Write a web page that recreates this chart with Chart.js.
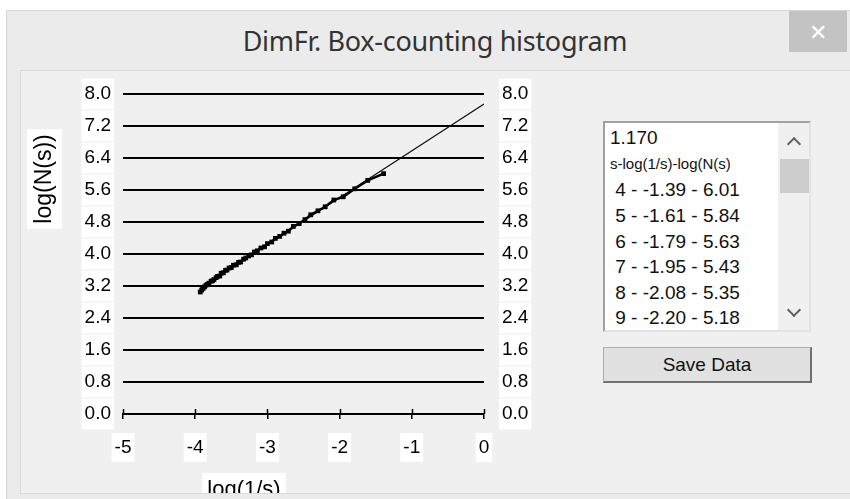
<!DOCTYPE html>
<html>
<head>
<meta charset="utf-8">
<script src="https://cdn.jsdelivr.net/npm/chart.js@4.4.1/dist/chart.umd.min.js"></script>
<style>
  html, body { margin:0; padding:0; background:#fff; width:850px; height:499px; overflow:hidden; }
  #win { position:absolute; left:6px; top:10px; width:860px; height:500px; background:#ebebeb; border:1px solid #d6d6d6; }
  #title { position:absolute; left:0; top:11px; width:870px; text-align:center; font:27px "Noto Sans","Open Sans",sans-serif; color:#333; line-height:60px; letter-spacing:-0.3px; }
  #close { position:absolute; left:789px; top:11px; width:58px; height:41px; background:#c3c3c3; color:#fff; font:22px "Open Sans",sans-serif; text-align:center; line-height:40px; }
  #panel { position:absolute; left:20px; top:70px; width:850px; height:422px; background:#f0f0f0; border:1px solid #dadada; }
  #list { position:absolute; left:603px; top:121px; width:204px; height:207px; background:#fff; border:2px solid; border-color:#a0a0a0 #e3e3e3 #e3e3e3 #a0a0a0; overflow:hidden; font-family:"Liberation Sans",Arial,sans-serif; }
  #list .row { position:absolute; left:5px; white-space:nowrap; font-size:19px; color:#111; }
  #list .hdr { font-size:15px; }
  #sb { position:absolute; right:0; top:0; width:31px; height:100%; background:#f0f0f0; }
  #thumb { position:absolute; left:2px; top:36px; width:29px; height:34px; background:#cdcdcd; }
  .chev { position:absolute; left:11px; width:8px; height:8px; border-left:2px solid #606060; border-top:2px solid #606060; }
  #btn { position:absolute; left:603px; top:347px; width:206px; height:33px; background:#e1e1e1; border:1px solid #adadad; border-right:2px solid #707070; border-bottom:2px solid #707070; font:19px "Liberation Sans",Arial,sans-serif; text-align:center; line-height:33px; color:#111; }
  #chart { position:absolute; left:0; top:0; pointer-events:none; }
</style>
</head>
<body>
<div id="win"></div>
<div id="title">DimFr. Box-counting histogram</div>
<div id="close">✕</div>
<div id="panel"></div>
<div id="list">
  <div class="row" style="top:4px">1.170</div>
  <div class="row hdr" style="top:32px">s-log(1/s)-log(N(s)</div>
  <div class="row" style="top:56px">&nbsp;4 - -1.39 - 6.01</div>
  <div class="row" style="top:82px">&nbsp;5 - -1.61 - 5.84</div>
  <div class="row" style="top:108px">&nbsp;6 - -1.79 - 5.63</div>
  <div class="row" style="top:133px">&nbsp;7 - -1.95 - 5.43</div>
  <div class="row" style="top:159px">&nbsp;8 - -2.08 - 5.35</div>
  <div class="row" style="top:184px">&nbsp;9 - -2.20 - 5.18</div>
  <div id="sb">
    <div class="chev" style="top:16px; transform:rotate(45deg)"></div>
    <div id="thumb"></div>
    <div class="chev" style="top:182px; transform:rotate(225deg)"></div>
  </div>
</div>
<div id="btn">Save Data</div>
<canvas id="chart" width="850" height="493"></canvas>
<script>
// ============ data ============
const Y_TITLE = 'log(N(s))';
const X_TITLE = 'log(1/s)';
const X_TICKS = [-5, -4, -3, -2, -1, 0];

// log(1/s) for s = 4 .. 51
const LOG_INV_S = [
  -1.39, -1.61, -1.79, -1.95, -2.08, -2.20, -2.30, -2.40, -2.48, -2.56,
  -2.64, -2.71, -2.77, -2.83, -2.89, -2.94, -3.00, -3.04, -3.09, -3.14,
  -3.18, -3.22, -3.26, -3.30, -3.33, -3.37, -3.40, -3.43, -3.47, -3.50,
  -3.53, -3.56, -3.58, -3.61, -3.64, -3.66, -3.69, -3.71, -3.74, -3.76,
  -3.78, -3.81, -3.83, -3.85, -3.87, -3.89, -3.91, -3.93
];
// log(N(s))
const LOG_N = [
  6.01, 5.84, 5.63, 5.43, 5.35, 5.18, 5.08, 4.98, 4.86, 4.76,
  4.69, 4.57, 4.52, 4.44, 4.39, 4.30, 4.26, 4.18, 4.15, 4.08,
  4.05, 3.98, 3.95, 3.90, 3.87, 3.80, 3.79, 3.73, 3.72, 3.66,
  3.65, 3.60, 3.59, 3.53, 3.52, 3.45, 3.44, 3.41, 3.36, 3.33,
  3.32, 3.27, 3.24, 3.22, 3.18, 3.14, 3.10, 3.05
];
// regression line end points
const FIT_X = [-3.93, 0];
const FIT_Y = [3.15, 7.75];

const FONT = '"Liberation Sans", Arial, sans-serif';

// axis titles with white box behind them, plus the small tick marks above the x axis
const axisTitles = {
  id: 'axisTitles',
  afterDraw(chart) {
    const c = chart.ctx;
    const xs = chart.scales.x, ys = chart.scales.y;
    const y0 = ys.getPixelForValue(0);
    c.save();
    c.strokeStyle = '#000';
    c.lineWidth = 1.5;
    X_TICKS.forEach(v => {
      const px = Math.round(xs.getPixelForValue(v)) + 0.5;
      c.beginPath(); c.moveTo(px, y0 - 5); c.lineTo(px, y0); c.stroke();
    });
    c.restore();

    c.save();
    c.font = '23px ' + FONT;
    c.textAlign = 'center';
    c.textBaseline = 'middle';
    let w = c.measureText(Y_TITLE).width;
    c.translate(44, 179);
    c.rotate(-Math.PI / 2);
    c.fillStyle = '#fff';
    c.fillRect(-w / 2 - 5, -17, w + 10, 35);
    c.fillStyle = '#000';
    c.fillText(Y_TITLE, 0, 1);
    c.restore();

    c.save();
    c.font = '22px ' + FONT;
    c.textAlign = 'center';
    c.textBaseline = 'middle';
    w = c.measureText(X_TITLE).width;
    c.fillStyle = '#fff';
    c.fillRect(244 - w / 2 - 5, 473, w + 10, 30);
    c.fillStyle = '#000';
    c.fillText(X_TITLE, 244, 490);
    c.restore();
  }
};

const yTicks = {
  stepSize: 0.8, color: '#000', font: {family: FONT, size: 19},
  showLabelBackdrop: true, backdropColor: '#fff', backdropPadding: {x: 3, y: 4},
  callback: v => (+v).toFixed(1)
};

new Chart(document.getElementById('chart'), {
  type: 'scatter',
  data: {
    datasets: [
      {
        data: LOG_INV_S.map((x, i) => ({x, y: LOG_N[i]})),
        showLine: true, borderColor: '#000', backgroundColor: '#000',
        borderWidth: 2.5, pointRadius: 1.6, pointStyle: 'rect', tension: 0
      },
      {
        data: FIT_X.map((x, i) => ({x, y: FIT_Y[i]})),
        showLine: true, borderColor: '#111', borderWidth: 1.2, pointRadius: 0
      }
    ]
  },
  options: {
    responsive: false, animation: false,
    layout: {padding: {top: 94, left: 0, right: 0, bottom: 0}},
    plugins: {legend: {display: false}, tooltip: {enabled: false}},
    scales: {
      x: {
        type: 'linear', min: -5, max: 0,
        ticks: {stepSize: 1, color: '#000', font: {family: FONT, size: 19}, padding: 17,
                showLabelBackdrop: true, backdropColor: '#fff', backdropPadding: {x: 3, y: 3}},
        grid: {drawOnChartArea: false, drawTicks: true, tickLength: 5, color: '#000', lineWidth: 1.5},
        border: {display: true, color: '#000', width: 2},
        afterFit: s => { s.height = 79; }
      },
      y: {
        position: 'left', min: 0, max: 8,
        ticks: Object.assign({padding: 12}, yTicks),
        grid: {color: '#000', lineWidth: 2, drawTicks: false},
        border: {display: false},
        afterFit: s => { s.width = 123; }
      },
      y2: {
        position: 'right', min: 0, max: 8,
        ticks: Object.assign({padding: 18}, yTicks),
        grid: {display: false, drawTicks: false},
        border: {display: false},
        afterFit: s => { s.width = 366; }
      }
    }
  },
  plugins: [axisTitles]
});
</script>
</body>
</html>
